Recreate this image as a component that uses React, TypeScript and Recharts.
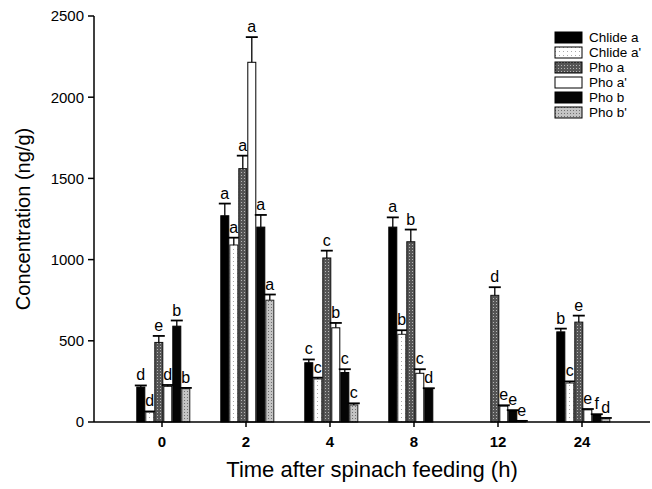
import React from 'react';
import { BarChart, Bar, XAxis, YAxis, Legend, Label } from 'recharts';

const times = ['0', '2', '4', '8', '12', '24'];

const chlideA = [215, 1270, 365, 1200, 0, 555];
const chlideAErr = [10, 75, 20, 60, 0, 20];
const chlideALetters = ['d', 'a', 'c', 'a', '', 'b'];

const chlideAp = [62, 1090, 265, 540, 0, 240];
const chlideApErr = [3, 45, 8, 25, 0, 10];
const chlideApLetters = ['d', 'a', 'c', 'b', '', 'c'];

const phoA = [490, 1560, 1010, 1110, 780, 615];
const phoAErr = [40, 80, 45, 75, 50, 40];
const phoALetters = ['e', 'a', 'c', 'b', 'd', 'e'];

const phoAp = [220, 2215, 580, 300, 98, 75];
const phoApErr = [8, 155, 30, 25, 5, 5];
const phoApLetters = ['d', 'a', 'b', 'c', 'e', 'e'];

const phoB = [590, 1200, 305, 205, 68, 40];
const phoBErr = [35, 75, 20, 3, 5, 8];
const phoBLetters = ['b', 'a', 'c', 'd', 'e', 'f'];

const phoBp = [205, 750, 105, 0, 5, 20];
const phoBpErr = [5, 35, 10, 0, 2, 5];
const phoBpLetters = ['b', 'a', 'c', '', 'e', 'd'];

const yTicks = [0, 500, 1000, 1500, 2000, 2500];

const series = [
    { key: 'chlideA', name: 'Chlide a', values: chlideA, errs: chlideAErr, letters: chlideALetters, fill: '#000', stroke: '#000' },
    { key: 'chlideAp', name: "Chlide a'", values: chlideAp, errs: chlideApErr, letters: chlideApLetters, fill: 'url(#patChlideAp)', stroke: '#222' },
    { key: 'phoA', name: 'Pho a', values: phoA, errs: phoAErr, letters: phoALetters, fill: 'url(#patPhoA)', stroke: '#111' },
    { key: 'phoAp', name: "Pho a'", values: phoAp, errs: phoApErr, letters: phoApLetters, fill: '#fff', stroke: '#000' },
    { key: 'phoB', name: 'Pho b', values: phoB, errs: phoBErr, letters: phoBLetters, fill: '#050505', stroke: '#000' },
    { key: 'phoBp', name: "Pho b'", values: phoBp, errs: phoBpErr, letters: phoBpLetters, fill: 'url(#patPhoBp)', stroke: '#222' },
];

const rows = times.map((t, i) => {
    const row: Record<string, string | number> = { time: t };
    series.forEach(s => { row[s.key] = s.values[i]; });
    return row;
});

const font = '"Liberation Sans", Arial, sans-serif';

const makeShape = (s: typeof series[number]) => (props: any) => {
    const { x, y, width, height, index } = props;
    const v = s.values[index];
    if (!v || v <= 0 || !height) return <g />;
    const perUnit = height / v;
    const e = s.errs[index] * perUnit;
    const cx = x + width / 2;
    const top = y - e;
    return (
        <g>
            <rect x={x} y={y} width={width} height={height} fill={s.fill} stroke={s.stroke} strokeWidth={1} />
            <line x1={cx} y1={y} x2={cx} y2={top} stroke="#000" strokeWidth={1.3} />
            <line x1={cx - 6} y1={top} x2={cx + 6} y2={top} stroke="#000" strokeWidth={1.8} />
            {s.letters[index] && (
                <text x={cx} y={top - 5} textAnchor="middle" fontSize={16} fontFamily={font} fill="#000">
                    {s.letters[index]}
                </text>
            )}
        </g>
    );
};

const renderLegend = (props: any) => {
    const { payload } = props;
    return (
        <div style={{ fontFamily: font, fontSize: 13.5, color: '#000' }}>
            {(payload || []).map((entry: any) => {
                const s = series.find(ss => ss.name === entry.value);
                return (
                    <div key={entry.value} style={{ display: 'flex', alignItems: 'center', height: 15 }}>
                        <svg width={30} height={13} style={{ marginRight: 5 }}>
                            <rect x={1} y={1} width={27} height={11} fill={s ? s.fill : entry.color} stroke="#000" strokeWidth={1} />
                        </svg>
                        <span>{entry.value}</span>
                    </div>
                );
            })}
        </div>
    );
};

const App: React.FC = () => {
    return (
        <div style={{ position: 'absolute', left: 0, top: 0, width: 652, height: 489, background: '#fff' }}>
            <BarChart
                width={652}
                height={489}
                data={rows}
                margin={{ top: 16, right: 2, left: 0, bottom: 0 }}
                barCategoryGap="20%"
                barGap={1}
            >
                <defs>
                    <pattern id="patPhoA" width="3" height="3" patternUnits="userSpaceOnUse">
                        <rect width="3" height="3" fill="#555" />
                        <rect x="1" y="1" width="1" height="1" fill="#b5b5b5" />
                    </pattern>
                    <pattern id="patPhoBp" width="3" height="3" patternUnits="userSpaceOnUse">
                        <rect width="3" height="3" fill="#c4c4c4" />
                        <rect x="1" y="1" width="1" height="1" fill="#707070" />
                    </pattern>
                    <pattern id="patChlideAp" width="4" height="4" patternUnits="userSpaceOnUse">
                        <rect width="4" height="4" fill="#fff" />
                        <rect x="1" y="1" width="1" height="1" fill="#aaa" />
                    </pattern>
                </defs>
                <XAxis
                    dataKey="time"
                    padding={{ left: 26, right: 26 }}
                    height={67}
                    tickSize={5}
                    tickMargin={9}
                    axisLine={{ stroke: '#000', strokeWidth: 1.5 }}
                    tickLine={{ stroke: '#000', strokeWidth: 1.5 }}
                    tick={{ fill: '#000', fontSize: 15, fontFamily: font, fontWeight: 'bold' }}
                >
                    <Label
                        value="Time after spinach feeding (h)"
                        position="insideBottom"
                        offset={12}
                        style={{ fontSize: 22, fontFamily: font, fill: '#000' }}
                    />
                </XAxis>
                <YAxis
                    width={94}
                    domain={[0, 2500]}
                    ticks={yTicks}
                    interval={0}
                    tickSize={6}
                    tickMargin={4}
                    axisLine={{ stroke: '#000', strokeWidth: 1.5 }}
                    tickLine={{ stroke: '#000', strokeWidth: 1.5 }}
                    tick={{ fill: '#000', fontSize: 15, fontFamily: font }}
                >
                    <Label
                        value="Concentration (ng/g)"
                        angle={-90}
                        position="insideLeft"
                        offset={23}
                        style={{ fontSize: 20, fontFamily: font, fill: '#000', textAnchor: 'middle' }}
                    />
                </YAxis>
                <Legend
                    layout="vertical"
                    align="center"
                    verticalAlign="middle"
                    content={renderLegend}
                    wrapperStyle={{ top: 30, left: 554, width: 98 }}
                />
                {series.map(s => (
                    <Bar
                        key={s.key}
                        dataKey={s.key}
                        name={s.name}
                        fill={s.fill}
                        shape={makeShape(s)}
                        isAnimationActive={false}
                    />
                ))}
            </BarChart>
        </div>
    );
};

export default App;
